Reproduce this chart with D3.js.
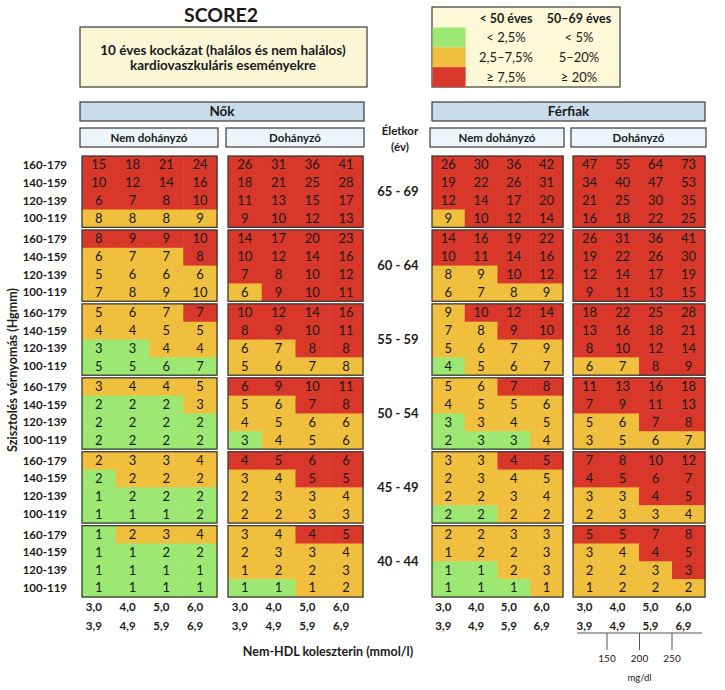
<!DOCTYPE html>
<html>
<head>
<meta charset="utf-8">
<script src="https://cdn.jsdelivr.net/npm/d3@7"></script>
<style>
  body { margin: 0; background: #fff; }
  svg { display: block; font-family: Lato, "Open Sans", sans-serif; }
</style>
</head>
<body>
<div id="chart"></div>
<script>
(function() {

const width = 725,
height = 690;

// --- data ---
const ages = ["65 - 69", "60 - 64", "55 - 59", "50 - 54", "45 - 49", "40 - 44"];
const bpLabels = ["160-179", "140-159", "120-139", "100-119"];
const cholLow = ["3,0", "4,0", "5,0", "6,0"];
const cholHigh = ["3,9", "4,9", "5,9", "6,9"];
const mgdlTicks = [150, 200, 250];

// risk values, one row per age group x blood pressure (top to bottom)
const womenNonSmoker = [
  [15,18,21,24],[10,12,14,16],[6,7,8,10],[8,8,8,9],
  [8,9,9,10],[6,7,7,8],[5,6,6,6],[7,8,9,10],
  [5,6,7,7],[4,4,5,5],[3,3,4,4],[5,5,6,7],
  [3,4,4,5],[2,2,2,3],[2,2,2,2],[2,2,2,2],
  [2,3,3,4],[2,2,2,2],[1,2,2,2],[1,1,1,2],
  [1,2,3,4],[1,1,2,2],[1,1,1,1],[1,1,1,1]
];
const womenSmoker = [
  [26,31,36,41],[18,21,25,28],[11,13,15,17],[9,10,12,13],
  [14,17,20,23],[10,12,14,16],[7,8,10,12],[6,9,10,11],
  [10,12,14,16],[8,9,10,11],[6,7,8,8],[5,6,7,8],
  [6,9,10,11],[5,6,7,8],[4,5,6,6],[3,4,5,6],
  [4,5,6,6],[3,4,5,5],[2,3,3,4],[2,2,3,3],
  [3,4,4,5],[2,3,3,4],[1,2,2,3],[1,1,1,2]
];
const menNonSmoker = [
  [26,30,36,42],[19,22,26,31],[12,14,17,20],[9,10,12,14],
  [14,16,19,22],[10,11,14,16],[8,9,10,12],[6,7,8,9],
  [9,10,12,14],[7,8,9,10],[5,6,7,9],[4,5,6,7],
  [5,6,7,8],[4,5,5,6],[3,3,4,5],[2,3,3,4],
  [3,3,4,5],[2,3,4,5],[2,2,3,4],[2,2,2,2],
  [2,2,3,3],[1,2,2,3],[1,1,2,3],[1,1,1,1]
];
const menSmoker = [
  [47,55,64,73],[34,40,47,53],[21,25,30,35],[16,18,22,25],
  [26,31,36,41],[19,22,26,30],[12,14,17,19],[9,11,13,15],
  [18,22,25,28],[13,16,18,21],[8,10,12,14],[6,7,8,9],
  [11,13,16,18],[7,9,11,13],[5,6,7,8],[3,5,6,7],
  [7,8,10,12],[4,5,6,7],[3,3,4,5],[2,3,3,4],
  [5,5,7,8],[3,4,4,5],[2,2,3,3],[1,2,2,2]
];

// risk category of each cell as printed: G low, Y moderate, R high
const womenNonSmokerLevel = [
  "RRRR","RRRR","RRRR","YYYY",
  "RRRR","YYYR","YYYY","YYYY",
  "YYYR","YYYY","GGYY","GGGG",
  "YYYY","GGGY","GGGG","GGGG",
  "YYYY","GYYY","GGGG","GGGG",
  "GYYY","GGGG","GGGG","GGGG"
];
const womenSmokerLevel = [
  "RRRR","RRRR","RRRR","RRRR",
  "RRRR","RRRR","RRRR","YRRR",
  "RRRR","RRRR","YYRR","YYYY",
  "RRRR","YYRR","YYYY","GYYY",
  "RRRR","YYRR","YYYY","YYYY",
  "YYRR","YYYY","YYYY","GGYY"
];
const menNonSmokerLevel = [
  "RRRR","RRRR","RRRR","YRRR",
  "RRRR","RRRR","YYRR","YYYY",
  "YRRR","YYRR","YYYY","GYYY",
  "YYRR","YYYY","GYYY","GGGY",
  "YYRR","YYYY","YYYY","GGYY",
  "YYYY","YYYY","GGYY","GGGY"
];
const menSmokerLevel = [
  "RRRR","RRRR","RRRR","RRRR",
  "RRRR","RRRR","RRRR","RRRR",
  "RRRR","RRRR","RRRR","YYRR",
  "RRRR","RRRR","YYRR","YYYY",
  "RRRR","RRRR","YYRR","YYYY",
  "RRRR","YYRR","YYYR","YYYY"
];

const legendYoung = ["< 2,5%", "2,5\u20137,5%", "\u2265 7,5%"];
const legendOld = ["< 5%", "5\u201320%", "\u2265 20%"];
const levels = ["G", "Y", "R"];

// --- styles ---
const color = d3.scaleOrdinal(levels, ["#9de873", "#efbf3d", "#d8372a"]);
const ink = "#1a1a1a";
const frame = "#3a3a3a";

const svg = d3.select("#chart")
  .append("svg")
  .attr("width", width)
  .attr("height", height)
  .attr("viewBox", [0, 0, width, height]);

// panels
const panels = [
  {values: womenNonSmoker, level: womenNonSmokerLevel, x0: 82, x1: 217, head: "Nem dohányzó"},
  {values: womenSmoker, level: womenSmokerLevel, x0: 228, x1: 363, head: "Dohányzó"},
  {values: menNonSmoker, level: menNonSmokerLevel, x0: 432, x1: 563, head: "Nem dohányzó"},
  {values: menSmoker, level: menSmokerLevel, x0: 573, x1: 705, head: "Dohányzó"}
];

const yBlock = d3.scaleBand()
  .domain(ages)
  .range([156, 597])
  .paddingInner(0.035);

const yRow = d3.scaleBand()
  .domain(bpLabels)
  .range([0, yBlock.bandwidth()]);

// title
svg.append("text")
  .attr("x", 221).attr("y", 22)
  .attr("text-anchor", "middle")
  .attr("font-size", 19.5).attr("font-weight", 700)
  .attr("fill", ink)
  .text("SCORE2");

svg.append("rect")
  .attr("x", 80).attr("y", 27)
  .attr("width", 287).attr("height", 60)
  .attr("fill", "#fbf7d6").attr("stroke", frame).attr("stroke-width", 1.2);

svg.append("text")
  .attr("x", 223).attr("y", 55)
  .attr("text-anchor", "middle")
  .attr("font-size", 13.5).attr("font-weight", 700).attr("fill", ink)
  .text("10 éves kockázat (halálos és nem halálos)");
svg.append("text")
  .attr("x", 223).attr("y", 70)
  .attr("text-anchor", "middle")
  .attr("font-size", 13.5).attr("font-weight", 700).attr("fill", ink)
  .text("kardiovaszkuláris eseményekre");

// legend
const lg = svg.append("g");
lg.append("rect")
  .attr("x", 432).attr("y", 7)
  .attr("width", 188).attr("height", 80)
  .attr("fill", "#fdf8d8").attr("stroke", frame).attr("stroke-width", 1.2);

const yLeg = d3.scaleBand().domain(levels).range([27.5, 87]);

lg.selectAll("rect.sw")
  .data(levels)
  .join("rect")
  .attr("class", "sw")
  .attr("x", 432.6).attr("y", d => yLeg(d))
  .attr("width", 33).attr("height", yLeg.bandwidth())
  .attr("fill", d => color(d));

lg.append("text")
  .attr("x", 506).attr("y", 23)
  .attr("text-anchor", "middle")
  .attr("font-size", 12.5).attr("font-weight", 700).attr("fill", ink)
  .text("< 50 éves");
lg.append("text")
  .attr("x", 579).attr("y", 23)
  .attr("text-anchor", "middle")
  .attr("font-size", 12.5).attr("font-weight", 700).attr("fill", ink)
  .text("50\u201369 éves");

lg.selectAll("text.young")
  .data(legendYoung)
  .join("text")
  .attr("class", "young")
  .attr("x", 506)
  .attr("y", (d, i) => yLeg(levels[i]) + yLeg.bandwidth() / 2 + 4.5)
  .attr("text-anchor", "middle")
  .attr("font-size", 13).attr("fill", ink)
  .text(d => d);

lg.selectAll("text.old")
  .data(legendOld)
  .join("text")
  .attr("class", "old")
  .attr("x", 579)
  .attr("y", (d, i) => yLeg(levels[i]) + yLeg.bandwidth() / 2 + 4.5)
  .attr("text-anchor", "middle")
  .attr("font-size", 13).attr("fill", ink)
  .text(d => d);

// sex headers
function header(x0, x1, y, h, fill, label, size) {
  svg.append("rect")
    .attr("x", x0).attr("y", y)
    .attr("width", x1 - x0).attr("height", h)
    .attr("fill", fill).attr("stroke", frame).attr("stroke-width", 1.2);
  svg.append("text")
    .attr("x", (x0 + x1) / 2).attr("y", y + h / 2 + size * 0.36)
    .attr("text-anchor", "middle")
    .attr("font-size", size).attr("font-weight", 700).attr("fill", ink)
    .text(label);
}

header(80, 364, 102, 19, "#c9dcec", "Nők", 13.5);
header(432, 705, 102, 19, "#c9dcec", "Férfiak", 13.5);
panels.forEach(p => header(p.x0 - 2, p.x1 + 1, 128, 19, "#edf4fa", p.head, 11.5));

svg.append("text")
  .attr("x", 400).attr("y", 135)
  .attr("text-anchor", "middle")
  .attr("font-size", 11.5).attr("font-weight", 700).attr("fill", ink)
  .text("Életkor");
svg.append("text")
  .attr("x", 400).attr("y", 151)
  .attr("text-anchor", "middle")
  .attr("font-size", 11.5).attr("font-weight", 700).attr("fill", ink)
  .text("(év)");

// grids
panels.forEach(p => {
  const x = d3.scaleBand().domain(d3.range(4)).range([p.x0, p.x1]);
  const g = svg.append("g");

  ages.forEach((age, a) => {
    const block = g.append("g").attr("transform", `translate(0,${yBlock(age)})`);
    const cells = [];
    bpLabels.forEach((bp, r) => {
      p.values[a * 4 + r].forEach((v, c) => {
        cells.push({bp, c, v, lev: p.level[a * 4 + r][c]});
      });
    });

    block.selectAll("rect.cell")
      .data(cells)
      .join("rect")
      .attr("class", "cell")
      .attr("x", d => x(d.c))
      .attr("y", d => yRow(d.bp))
      .attr("width", x.bandwidth() + 0.5)
      .attr("height", yRow.bandwidth() + 0.5)
      .attr("fill", d => color(d.lev));

    block.selectAll("text")
      .data(cells)
      .join("text")
      .attr("x", d => x(d.c) + x.bandwidth() / 2)
      .attr("y", d => yRow(d.bp) + yRow.bandwidth() / 2 + 4.4)
      .attr("text-anchor", "middle")
      .attr("font-size", 13).attr("fill", ink)
      .text(d => d.v);

    block.append("rect")
      .attr("x", p.x0).attr("y", 0)
      .attr("width", p.x1 - p.x0).attr("height", yBlock.bandwidth())
      .attr("fill", "none").attr("stroke", frame).attr("stroke-width", 1.3);
  });

  // cholesterol tick labels
  g.selectAll("text.lo")
    .data(cholLow)
    .join("text")
    .attr("class", "lo")
    .attr("x", (d, i) => x(i) + x.bandwidth() / 2 - 5)
    .attr("y", 611)
    .attr("text-anchor", "middle")
    .attr("font-size", 11.5).attr("font-weight", 700).attr("fill", ink)
    .text(d => d);
  g.selectAll("text.hi")
    .data(cholHigh)
    .join("text")
    .attr("class", "hi")
    .attr("x", (d, i) => x(i) + x.bandwidth() / 2 - 5)
    .attr("y", 630)
    .attr("text-anchor", "middle")
    .attr("font-size", 11.5).attr("font-weight", 700).attr("fill", ink)
    .text(d => d);
});

// blood pressure row labels
ages.forEach(age => {
  svg.append("g")
    .attr("transform", `translate(0,${yBlock(age)})`)
    .selectAll("text")
    .data(bpLabels)
    .join("text")
    .attr("x", 67)
    .attr("y", d => yRow(d) + yRow.bandwidth() / 2 + 4)
    .attr("text-anchor", "end")
    .attr("font-size", 11.5).attr("font-weight", 700).attr("fill", ink)
    .text(d => d);
});

// age labels
svg.selectAll("text.age")
  .data(ages)
  .join("text")
  .attr("class", "age")
  .attr("x", 398)
  .attr("y", d => yBlock(d) + yBlock.bandwidth() / 2 + 4.5)
  .attr("text-anchor", "middle")
  .attr("font-size", 13).attr("font-weight", 700).attr("fill", ink)
  .text(d => d);

// axis titles
svg.append("text")
  .attr("transform", "translate(17,370) rotate(-90)")
  .attr("text-anchor", "middle")
  .attr("font-size", 12.5).attr("font-weight", 700).attr("fill", ink)
  .text("Szisztolés vérnyomás (Hgmm)");

svg.append("text")
  .attr("x", 328).attr("y", 656)
  .attr("text-anchor", "middle")
  .attr("font-size", 12.5).attr("font-weight", 700).attr("fill", ink)
  .text("Nem-HDL koleszterin (mmol/l)");

// mg/dl scale under the men smoker panel
const mg = d3.scaleLinear().domain([150, 250]).range([607, 672]);
const mgAxis = svg.append("g");
mgAxis.append("line")
  .attr("x1", mg(104)).attr("x2", mg(296))
  .attr("y1", 633).attr("y2", 633)
  .attr("stroke", "#555").attr("stroke-width", 1.2);
mgAxis.selectAll("line.tk")
  .data(mgdlTicks)
  .join("line")
  .attr("class", "tk")
  .attr("x1", d => mg(d)).attr("x2", d => mg(d))
  .attr("y1", 633).attr("y2", 650)
  .attr("stroke", "#555").attr("stroke-width", 1);
mgAxis.selectAll("text")
  .data(mgdlTicks)
  .join("text")
  .attr("x", d => mg(d))
  .attr("y", 662)
  .attr("text-anchor", "middle")
  .attr("font-size", 10).attr("fill", ink)
  .text(d => d);
mgAxis.append("text")
  .attr("x", mg(200)).attr("y", 681)
  .attr("text-anchor", "middle")
  .attr("font-size", 9.5).attr("fill", ink)
  .text("mg/dl");

})();
</script>
</body>
</html>
